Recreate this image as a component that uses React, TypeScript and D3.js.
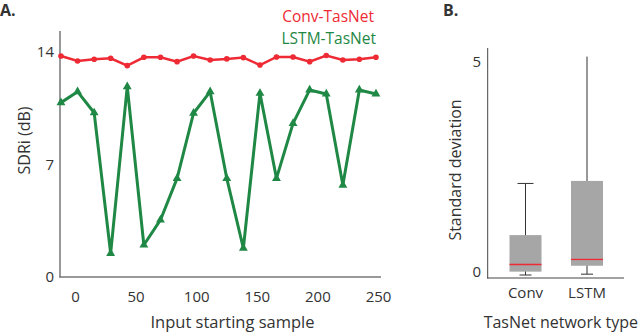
import { useEffect, useRef } from "react";
import * as d3 from "d3";

// panel A: SDRi per input starting sample
const samples = [-12, 1.7, 15.4, 29, 42.7, 56.4, 70.1, 83.8, 97.4, 111.1, 124.8, 138.5, 152.2, 165.8, 179.5, 193.2, 206.9, 220.6, 234.2, 247.9];
const convSdri = [13.75, 13.44, 13.55, 13.61, 13.15, 13.67, 13.67, 13.4, 13.75, 13.5, 13.57, 13.65, 13.19, 13.69, 13.69, 13.4, 13.78, 13.5, 13.55, 13.67];
const lstmSdri = [10.85, 11.53, 10.22, 1.47, 11.84, 1.99, 3.55, 6.14, 10.19, 11.53, 6.14, 1.79, 11.43, 6.14, 9.56, 11.64, 11.39, 5.72, 11.64, 11.39];
const xTicks = [0, 50, 100, 150, 200, 250];
const yTicksA = [0, 7, 14];

// panel B: std-dev box plots
const boxNames = ["Conv", "LSTM"];
const boxMin = [0.0, 0.02];
const boxQ1 = [0.08, 0.22];
const boxMedian = [0.25, 0.37];
const boxQ3 = [0.95, 2.24];
const boxMax = [2.18, 5.2];
const yTicksB = [0, 5];

const RED = "#ee2a34";
const GREEN = "#1f8845";
const FONT = "'Open Sans', 'Noto Sans', sans-serif";

export default function App() {
  const ref = useRef<SVGSVGElement>(null);

  useEffect(() => {
    const svg = d3.select(ref.current);
    svg.selectAll("*").remove();
    svg.attr("width", 640).attr("height", 332).style("font-family", FONT);

    // ---------- A ----------
    const x = d3.scaleLinear().domain([0, 250]).range([75.5, 378.5]);
    const y = d3.scaleLinear().domain([0, 14]).range([277, 52]);

    svg.append("text").attr("x", 0).attr("y", 16).text("A.")
      .style("font-size", "16px").style("font-weight", 700).attr("fill", "#333");

    svg.append("line").attr("x1", 60).attr("x2", 60).attr("y1", 31).attr("y2", 277.5)
      .attr("stroke", "#777").attr("stroke-width", 1.5);
    svg.append("line").attr("x1", 59.3).attr("x2", 381).attr("y1", 277).attr("y2", 277)
      .attr("stroke", "#777").attr("stroke-width", 1.5);

    svg.append("g").selectAll("text").data(yTicksA).join("text")
      .attr("x", 54).attr("y", d => y(d)).attr("dy", "0.35em")
      .attr("text-anchor", "end").attr("fill", "#333").style("font-size", "15px")
      .text(d => d);
    svg.append("g").selectAll("text").data(xTicks).join("text")
      .attr("x", d => x(d)).attr("y", 297).attr("dy", "0.35em")
      .attr("text-anchor", "middle").attr("fill", "#333").style("font-size", "15px")
      .text(d => d);

    svg.append("text").attr("transform", "translate(30,140.5) rotate(-90)")
      .attr("text-anchor", "middle").attr("fill", "#333").style("font-size", "16px")
      .text("SDRi (dB)");
    svg.append("text").attr("x", 232.5).attr("y", 322).attr("dy", "0.35em")
      .attr("text-anchor", "middle").attr("fill", "#333").style("font-size", "16.5px")
      .text("Input starting sample");

    const line = d3.line<number>().x((_, i) => x(samples[i]));

    svg.append("path").datum(convSdri)
      .attr("d", line.y(d => y(d)))
      .attr("fill", "none").attr("stroke", RED).attr("stroke-width", 2.5);
    svg.append("g").selectAll("circle").data(convSdri).join("circle")
      .attr("cx", (_, i) => x(samples[i])).attr("cy", d => y(d)).attr("r", 2.8)
      .attr("fill", RED);

    svg.append("path").datum(lstmSdri)
      .attr("d", line.y(d => y(d)))
      .attr("fill", "none").attr("stroke", GREEN).attr("stroke-width", 3)
      .attr("stroke-linejoin", "round");
    const tri = d3.symbol().type(d3.symbolTriangle).size(34);
    svg.append("g").selectAll("path").data(lstmSdri).join("path")
      .attr("d", tri)
      .attr("transform", (d, i) => `translate(${x(samples[i])},${y(d)})`)
      .attr("fill", GREEN);

    svg.append("text").attr("x", 374).attr("y", 17).attr("dy", "0.35em")
      .attr("text-anchor", "end").attr("fill", RED).style("font-size", "15.5px")
      .text("Conv-TasNet");
    svg.append("text").attr("x", 376).attr("y", 39).attr("dy", "0.35em")
      .attr("text-anchor", "end").attr("fill", GREEN).style("font-size", "15.5px")
      .text("LSTM-TasNet");

    // ---------- B ----------
    const xb = d3.scalePoint<string>().domain(boxNames).range([525.5, 587]);
    const yb = d3.scaleLinear().domain([0, 5]).range([275, 65]);
    const bw = 32;

    svg.append("text").attr("x", 443).attr("y", 16).text("B.")
      .style("font-size", "16px").style("font-weight", 700).attr("fill", "#333");

    svg.append("line").attr("x1", 487.7).attr("x2", 487.7).attr("y1", 48).attr("y2", 278.5)
      .attr("stroke", "#444").attr("stroke-width", 1);
    svg.append("line").attr("x1", 487.2).attr("x2", 624).attr("y1", 278).attr("y2", 278)
      .attr("stroke", "#444").attr("stroke-width", 1);

    svg.append("g").selectAll("text").data(yTicksB).join("text")
      .attr("x", 481).attr("y", d => yb(d) - 3).attr("dy", "0.35em")
      .attr("text-anchor", "end").attr("fill", "#333").style("font-size", "15px")
      .text(d => d);
    svg.append("g").selectAll("text").data(boxNames).join("text")
      .attr("x", d => xb(d)!).attr("y", 293).attr("dy", "0.35em")
      .attr("text-anchor", "middle").attr("fill", "#333").style("font-size", "15px")
      .text(d => d);

    svg.append("text").attr("transform", "translate(461,170) rotate(-90)")
      .attr("text-anchor", "middle").attr("fill", "#333").style("font-size", "16px")
      .text("Standard deviation");
    svg.append("text").attr("x", 638).attr("y", 322).attr("dy", "0.35em")
      .attr("text-anchor", "end").attr("fill", "#333").style("font-size", "16px")
      .text("TasNet network type");

    const boxes = svg.append("g").selectAll("g").data(boxNames).join("g");
    boxes.append("line")
      .attr("x1", d => xb(d)!).attr("x2", d => xb(d)!)
      .attr("y1", (_, i) => yb(boxMin[i])).attr("y2", (_, i) => yb(boxMax[i]))
      .attr("stroke", "#333").attr("stroke-width", 1);
    boxes.append("line")
      .attr("x1", d => xb(d)! - 6).attr("x2", d => xb(d)! + 6)
      .attr("y1", (_, i) => yb(boxMin[i])).attr("y2", (_, i) => yb(boxMin[i]))
      .attr("stroke", "#333").attr("stroke-width", 1);
    boxes.filter((_, i) => i === 0).append("line")
      .attr("x1", d => xb(d)! - 8).attr("x2", d => xb(d)! + 8)
      .attr("y1", yb(boxMax[0])).attr("y2", yb(boxMax[0]))
      .attr("stroke", "#333").attr("stroke-width", 1);
    boxes.append("rect")
      .attr("x", d => xb(d)! - bw / 2).attr("width", bw)
      .attr("y", (_, i) => yb(boxQ3[i]))
      .attr("height", (_, i) => yb(boxQ1[i]) - yb(boxQ3[i]))
      .attr("fill", "#a6a6a6");
    boxes.append("line")
      .attr("x1", d => xb(d)! - bw / 2).attr("x2", d => xb(d)! + bw / 2)
      .attr("y1", (_, i) => yb(boxMedian[i])).attr("y2", (_, i) => yb(boxMedian[i]))
      .attr("stroke", RED).attr("stroke-width", 1.3);
  }, []);

  return <svg ref={ref} style={{ position: "absolute", left: 0, top: 0 }} />;
}
